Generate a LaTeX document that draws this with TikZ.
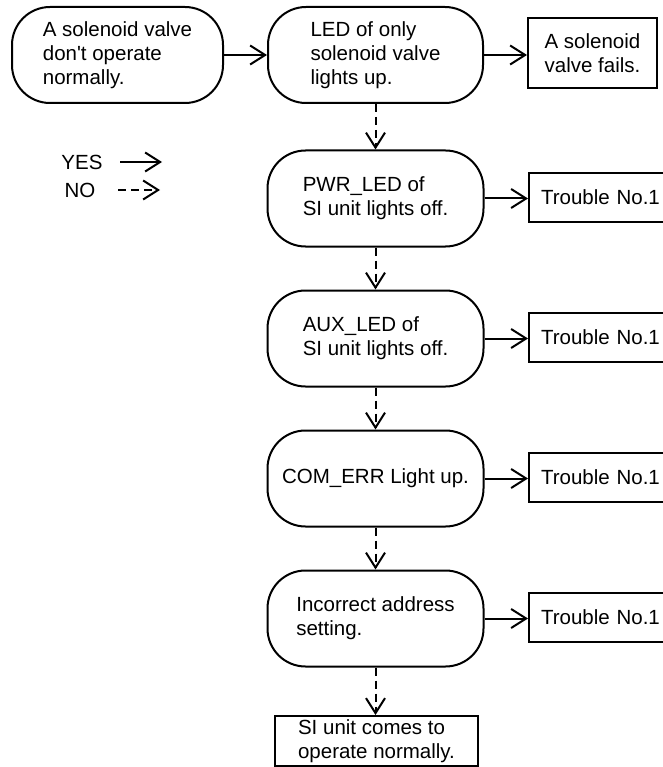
\documentclass[tikz,border=0pt]{standalone}
\usepackage{fontspec}
\setmainfont{Liberation Sans}
\usetikzlibrary{arrows.meta}

\begin{document}
\begin{tikzpicture}[x=1pt, y=-1pt,
						% Styles for the text nodes and the two kinds of arrow
						base/.style={font=\fontsize{20.5}{24}\selectfont, inner sep=0pt},
						stadium/.style={base, draw, line width=2pt, rounded corners=38pt, minimum width=216pt, minimum height=96pt, align=left},
						box/.style={base, draw, line width=2pt, align=left, inner xsep=12pt},
						trouble/.style={box, anchor=west, text width=130pt, minimum height=49pt},
						yes/.style={line width=2pt, -{Straight Barb[length=15pt, width=19pt, line width=2pt]}},
						no/.style={yes, dash pattern=on 8pt off 5pt}
						]
						\useasboundingbox (0,0) rectangle (662,767);
						
						% Define and place your nodes
						\node[stadium, minimum width=211pt] (start) at (117.5,55) {A solenoid valve\\don\textquotesingle t operate\\normally.};
						\node[stadium, minimum width=215pt] (led) at (375.5,55) {LED of only\\solenoid valve\\lights up.};
						\node[box, minimum width=129pt, minimum height=70pt] (fail) at (592.5,53) {A solenoid\\valve fails.};
						
						\node[stadium] (pwr) at (375.5,198.5) {PWR\_LED of\\SI unit lights off.};
						\node[stadium] (aux) at (375.5,338.5) {AUX\_LED of\\SI unit lights off.};
						\node[stadium] (com) at (375.5,478.5) {COM\_ERR Light up.};
						\node[stadium] (addr) at (375.5,618.5) {Incorrect address\\setting.};
						\node[box, minimum width=203pt, minimum height=50pt] (ok) at (376.5,741) {SI unit comes to\\operate normally.};
						
						\node[trouble] (t1) at (528,197.5) {Trouble No.1};
						\node[trouble] (t2) at (528,337.5) {Trouble No.1};
						\node[trouble] (t3) at (528,477.5) {Trouble No.1};
						\node[trouble] (t4) at (528,617.5) {Trouble No.1};
						
						% legend
						\node[base] (yesl) at (82,162) {YES};
						\node[base] (nol) at (80,190) {NO};
						\coordinate (yesA) at (120,162);
						\coordinate (yesB) at (162,162);
						\coordinate (noA) at (118,190);
						\coordinate (noB) at (160,190);
						
						% --- Draw the edges ---
						\draw[yes] (start) -- (led);
						\draw[yes] (led.east) -- (led.east -| fail.west);
						\draw[no] (led) -- (pwr);
						\draw[no] (pwr) -- (aux);
						\draw[no] (aux) -- (com);
						\draw[no] (com) -- (addr);
						\draw[no] (addr.south) -- (addr.south |- ok.north);
						\draw[yes] (pwr.east) -- (pwr.east -| t1.west);
						\draw[yes] (aux.east) -- (aux.east -| t2.west);
						\draw[yes] (com.east) -- (com.east -| t3.west);
						\draw[yes] (addr.east) -- (addr.east -| t4.west);
						\draw[yes] (yesA) -- (yesB);
						\draw[no] (noA) -- (noB);
					\end{tikzpicture}
\end{document}
